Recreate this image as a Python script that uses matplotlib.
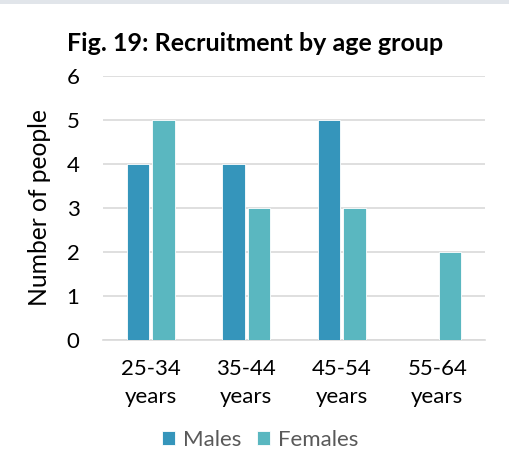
import numpy as np
import matplotlib.pyplot as plt
from matplotlib.patches import Rectangle

# recruitment counts per age band
age_groups = ["25-34\nyears", "35-44\nyears", "45-54\nyears", "55-64\nyears"]
males = [4, 4, 5, 0]
females = [5, 3, 3, 2]

plt.rcParams['font.family'] = ['Lato', 'DejaVu Sans']

fig = plt.figure(figsize=(5.10, 4.63), dpi=100)
ax = fig.add_axes([0.202, 0.2657, 0.749, 0.5702])

# thin grey strip along the top edge
fig.patches.append(Rectangle((0, 0.991), 1, 0.009, transform=fig.transFigure,
                             facecolor='#e1e5ea', edgecolor='none'))

x = np.arange(len(age_groups))
w = 0.235
ax.bar(x - 0.135, males, w, color='#3595bb', edgecolor='white', linewidth=0.6,
       label='Males', zorder=3)
ax.bar(x + 0.135, females, w, color='#5ab7c0', edgecolor='white', linewidth=0.6,
       label='Females', zorder=3)

ax.set_xlim(-0.5, len(age_groups) - 0.5)
ax.set_ylim(0, 6)
ax.set_yticks(range(7))
ax.set_xticks(x)
ax.set_xticklabels(age_groups, fontsize=16, linespacing=1.5)
ax.tick_params(axis='y', labelsize=16, length=0, pad=17)
ax.tick_params(axis='x', length=0, pad=14)
ax.grid(axis='y', color='#d9d9d9', linewidth=1.2, zorder=0)
for side in ['top', 'right', 'left']:
    ax.spines[side].set_visible(False)
ax.spines['bottom'].set_color('#d9d9d9')
ax.spines['bottom'].set_linewidth(1.2)

ax.set_ylabel("Number of people", fontsize=17.7, labelpad=11)
fig.text(0.5, 0.905, "Fig. 19: Recruitment by age group", ha='center',
         va='center', fontsize=18, fontweight='bold')

leg = fig.legend(loc='center', bbox_to_anchor=(0.51, 0.05), ncol=2,
                 frameon=False, fontsize=16, handlelength=0.6, handleheight=0.6,
                 handletextpad=0.35, columnspacing=0.7)
for t in leg.get_texts():
    t.set_color('#595959')

fig.savefig("out.png", dpi=100)
